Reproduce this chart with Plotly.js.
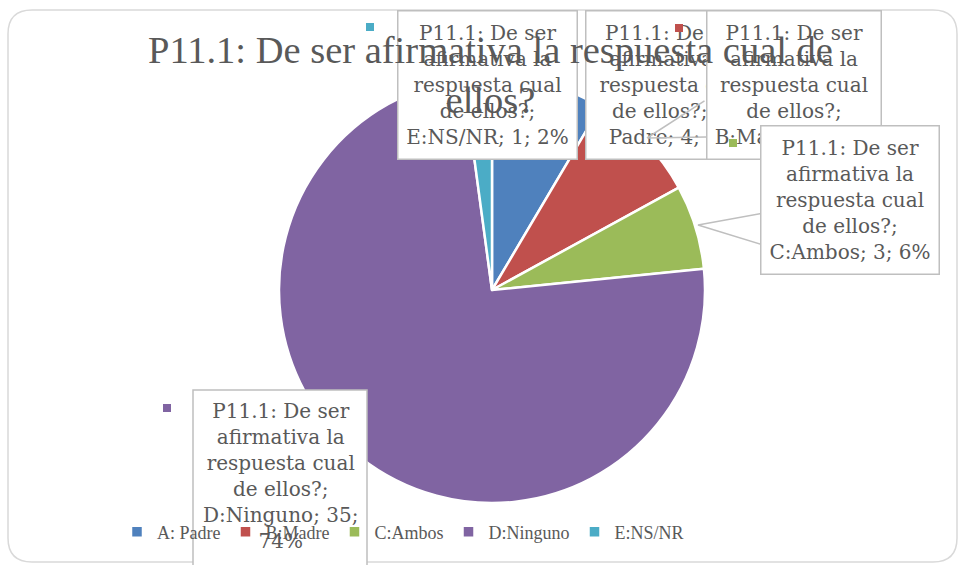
<!DOCTYPE html>
<html>
<head>
<meta charset="utf-8">
<script src="https://cdn.plot.ly/plotly-3.0.1.min.js"></script>
<style>html,body{margin:0;padding:0;background:#fff;}#chart{width:963px;height:565px;}</style>
</head>
<body>
<div id="chart"></div>
<script>
// ---- data ----
const seriesName = "P11.1: De ser afirmativa la respuesta cual de ellos?";
const categories = ["A: Padre", "B:Madre", "C:Ambos", "D:Ninguno", "E:NS/NR"];
const values = [4, 4, 3, 35, 1];
const colors = ["#4F81BD", "#C0504D", "#9BBB59", "#8064A2", "#4BACC6"];

// ---- helpers ----
const W = 963, H = 565;
const X = px => px / W;
const Y = py => 1 - py / H;
const total = values.reduce((a, b) => a + b, 0);
function wrap(str, max) {
  const words = str.split(' ');
  const lines = [];
  let cur = '';
  words.forEach(w => {
    if (!cur) cur = w;
    else if ((cur + ' ' + w).length <= max) cur += ' ' + w;
    else { lines.push(cur); cur = w; }
  });
  if (cur) lines.push(cur);
  return lines.join('<br>');
}
function labelText(i) {
  const pct = Math.round(values[i] / total * 100);
  return wrap(seriesName + '; ' + categories[i] + '; ' + values[i] + '; ' + pct + '%', 15);
}

const txtColor = '#595959';
const boxLine = '#bfbfbf';
const boxFont = {family: 'DejaVu Serif', size: 20, color: txtColor};

// callout boxes (pixel geometry), drawn in this order (later on top)
const boxGeom = [
  {i: 4, x0: 397, x1: 578, y0: 10, y1: 160},
  {i: 0, x0: 585, x1: 762, y0: 10, y1: 160},
  {i: 1, x0: 706, x1: 882, y0: 10, y1: 160},
  {i: 2, x0: 760, x1: 940, y0: 125, y1: 275}
];
const bw = 1.5;
const annotations = [];
boxGeom.forEach(b => {
  annotations.push({
    xref: 'paper', yref: 'paper', x: X(b.x0), y: Y(b.y0),
    xanchor: 'left', yanchor: 'top',
    width: b.x1 - b.x0 - 2 * bw, height: b.y1 - b.y0 - 2 * bw,
    text: labelText(b.i), showarrow: false, align: 'center', valign: 'middle',
    bgcolor: '#ffffff', bordercolor: boxLine, borderwidth: bw, borderpad: 0,
    font: boxFont
  });
});
// wedge lines of the Madre callout
[[706, 100, 647, 138], [647, 138, 706, 137]].forEach(s => {
  annotations.push({
    xref: 'paper', yref: 'paper', axref: 'paper', ayref: 'paper',
    x: X(s[2]), y: Y(s[3]), ax: X(s[0]), ay: Y(s[1]),
    text: '', showarrow: true, arrowhead: 0, arrowwidth: 1.5, arrowcolor: boxLine, standoff: 0
  });
});
// Ninguno label text (box drawn as shape so legend stays visible)
annotations.push({
  xref: 'paper', yref: 'paper', x: X(280), y: Y(397),
  xanchor: 'center', yanchor: 'top',
  text: labelText(3), showarrow: false, align: 'center',
  font: boxFont
});
// small legend keys that appear inside the labels
const keyPos = [[4, 366, 23], [1, 675, 24], [2, 729, 139], [3, 163, 404]];
keyPos.forEach(k => {
  annotations.push({
    xref: 'paper', yref: 'paper', x: X(k[1]), y: Y(k[2]), xanchor: 'left', yanchor: 'top',
    width: 8, height: 8, text: '.', showarrow: false, bgcolor: colors[k[0]],
    borderwidth: 0, borderpad: 0, font: {size: 6, color: colors[k[0]]}
  });
});
// chart title, drawn last so it sits above the callouts (as in the reference)
annotations.push({
  xref: 'paper', yref: 'paper', x: X(490), y: Y(75), xanchor: 'center', yanchor: 'middle',
  text: wrap(seriesName, 46), showarrow: false, align: 'center',
  font: {family: 'Liberation Serif', size: 38.5, color: txtColor}
});

// outer rounded frame
function roundRect(x0, y0, x1, y1, r) {
  const p = (x, y) => X(x) + ',' + Y(y);
  return 'M' + p(x0 + r, y0) + ' L' + p(x1 - r, y0) + ' Q' + p(x1, y0) + ' ' + p(x1, y0 + r) +
    ' L' + p(x1, y1 - r) + ' Q' + p(x1, y1) + ' ' + p(x1 - r, y1) +
    ' L' + p(x0 + r, y1) + ' Q' + p(x0, y1) + ' ' + p(x0, y1 - r) +
    ' L' + p(x0, y0 + r) + ' Q' + p(x0, y0) + ' ' + p(x0 + r, y0) + ' Z';
}
const shapes = [
  {type: 'path', xref: 'paper', yref: 'paper', path: roundRect(8, 10, 957, 562, 24),
   line: {color: '#d9d9d9', width: 1.5}, fillcolor: 'rgba(0,0,0,0)', layer: 'below'},
  // Ambos callout wedge
  {type: 'path', xref: 'paper', yref: 'paper',
   path: 'M' + X(770) + ',' + Y(212) + ' L' + X(698) + ',' + Y(225) + ' L' + X(770) + ',' + Y(247) + ' Z',
   line: {color: boxLine, width: 1.5}, fillcolor: '#ffffff', layer: 'above'},
  // Ninguno box
  {type: 'rect', xref: 'paper', yref: 'paper', x0: X(193), x1: X(367), y0: Y(390), y1: Y(580),
   line: {color: boxLine, width: 1.5}, fillcolor: '#ffffff', layer: 'above'}
];

const trace = {
  type: 'pie',
  labels: categories,
  values: values,
  marker: {colors: colors, line: {color: '#ffffff', width: 2.5}},
  sort: false,
  direction: 'clockwise',
  rotation: 0,
  textinfo: 'none',
  hoverinfo: 'label+value+percent',
  domain: {x: [X(279), X(705)], y: [Y(503), Y(77)]}
};

const layout = {
  width: W, height: H,
  margin: {l: 0, r: 0, t: 0, b: 0},
  paper_bgcolor: '#ffffff',
  showlegend: true,
  legend: {
    orientation: 'h', x: X(403), xanchor: 'center', y: Y(532), yanchor: 'middle',
    font: {family: 'Liberation Serif', size: 18, color: txtColor},
    bgcolor: 'rgba(0,0,0,0)'
  },
  shapes: shapes,
  annotations: annotations
};

Plotly.newPlot('chart', [trace], layout, {displayModeBar: false, staticPlot: true});
</script>
</body>
</html>
